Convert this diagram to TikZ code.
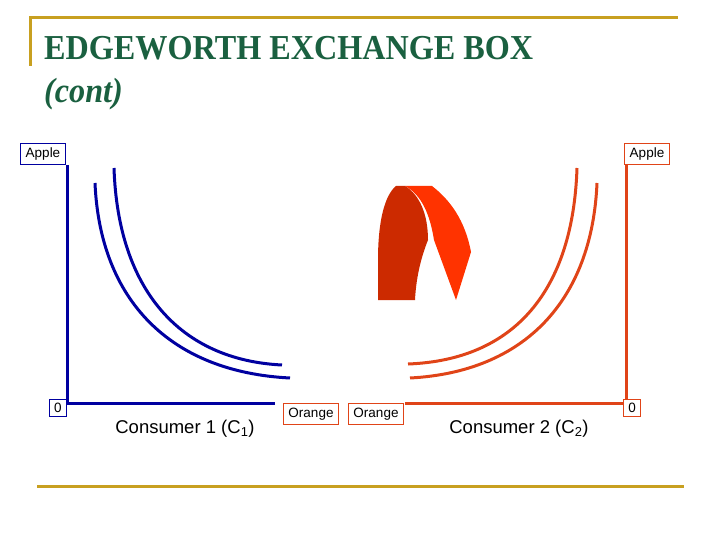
\documentclass[tikz,border=0pt]{standalone}
\usepackage{fontspec}
\setmainfont{Liberation Serif}
\newfontfamily\arial{Liberation Sans}
\definecolor{gold}{HTML}{C8A020}
\definecolor{ttl}{HTML}{1A6040}
\definecolor{bl}{HTML}{0000A0}
\definecolor{orr}{HTML}{E04418}
\definecolor{dred}{HTML}{CC2A00}
\definecolor{bred}{HTML}{FF3300}
\begin{document}
\begin{tikzpicture}[x=1pt,y=-1pt,
  lab/.style={draw,line width=1pt,font=\arial\fontsize{13.5}{15}\selectfont,inner xsep=5pt,inner ysep=4pt,fill=white},
  bax/.style={bl,line width=3pt},
  oax/.style={orr,line width=3pt},
  bc/.style={bl,line width=3pt},
  oc/.style={orr,line width=3pt}]
\useasboundingbox (0,0) rectangle (720,540);
\draw[gold,line width=3pt] (30,66) |- (678,18);
\draw[gold,line width=3pt] (37,486) -- (684,486);
\node[anchor=base west,text=ttl,font=\bfseries\fontsize{35}{38}\selectfont,inner sep=0,xscale=0.92] (t1) at (44,60) {EDGEWORTH EXCHANGE BOX};
\node[anchor=base west,text=ttl,font=\bfseries\itshape\fontsize{35}{38}\selectfont,inner sep=0,xscale=0.92] (t2) at (44,103) {(cont)};
% axes
\draw[bax] (67,165) |- (275,403);
\draw[oax] (626,165) |- (405,403);
% curves
\draw[bc] (95,183) .. controls (100,300) and (170,372) .. (290,378);
\draw[bc] (114,168) .. controls (118,290) and (180,360) .. (282,365);
\draw[oc] (597,183) .. controls (592,300) and (525,372) .. (410,378);
\draw[oc] (577,168) .. controls (573,290) and (515,360) .. (408,364);
% arrow
\fill[bred] (405,186) -- (432,186) .. controls (450,200) and (465,220) .. (471,252) -- (456,300) -- (434,240) .. controls (430,215) and (422,195) .. (405,186) -- cycle;
\fill[dred] (378,300) -- (378,260) .. controls (378,220) and (385,195) .. (396,186) -- (405,186) .. controls (420,195) and (428,215) .. (428,240) .. controls (420,260) and (416,280) .. (415,300) -- cycle;
% labels
\node[lab,draw=bl] (a1) at (43,154) {Apple};
\node[lab,draw=orr] (a2) at (647,154) {Apple};
\node[lab,draw=bl] (z1) at (58,408) {0};
\node[lab,draw=orr] (z2) at (632,408) {0};
\node[lab,draw=orr] (o1) at (311,414) {Orange};
\node[lab,draw=orr] (o2) at (376,414) {Orange};
\node[font=\arial\fontsize{18.5}{20}\selectfont] (c1) at (185,429) {Consumer 1 (C\textsubscript{1})};
\node[font=\arial\fontsize{18.5}{20}\selectfont] (c2) at (519,429) {Consumer 2 (C\textsubscript{2})};
\end{tikzpicture}
\end{document}
